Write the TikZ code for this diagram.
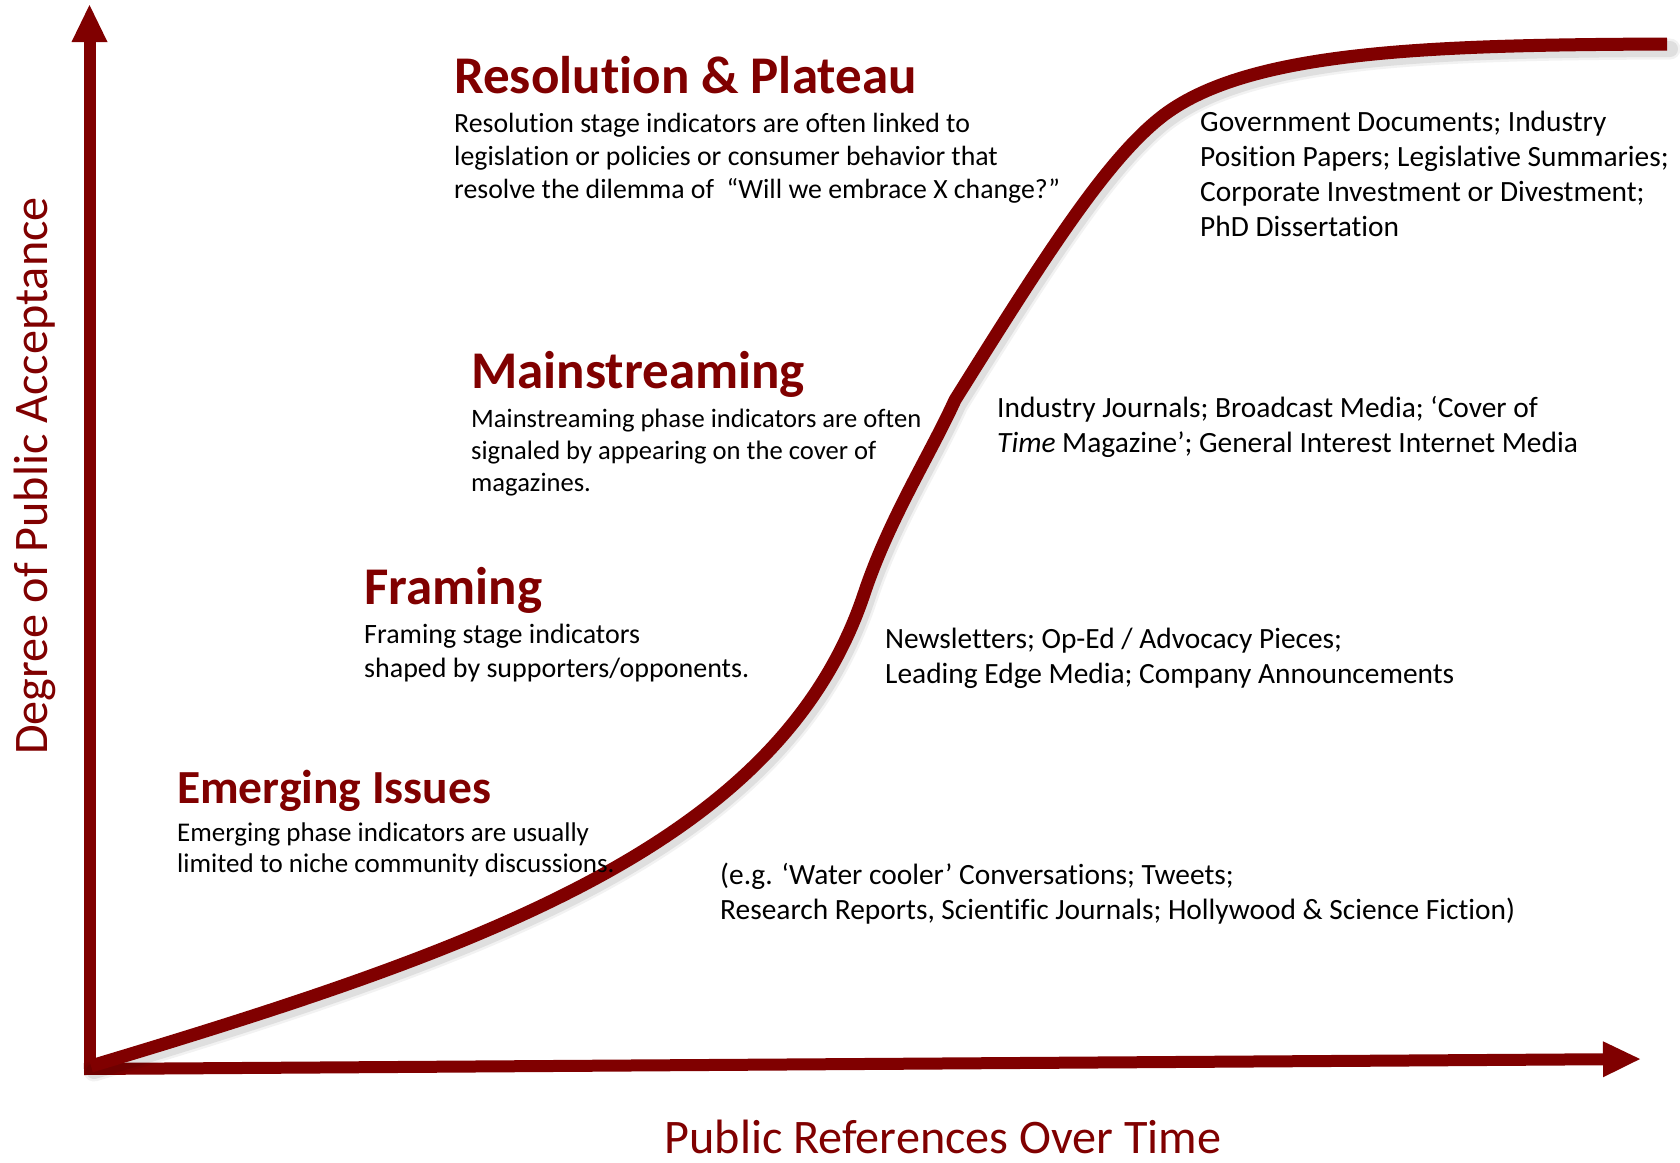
\documentclass[tikz,border=0pt]{standalone}
\usepackage{fontspec}
\setmainfont{Carlito}[Ligatures=NoCommon]
\usetikzlibrary{arrows.meta}
\definecolor{maroon}{RGB}{128,0,0}
\newcommand\linesbox[1]{\parbox[t]{900pt}{\raggedright #1}}
\tikzset{
  axisline/.style={maroon, line width=12pt, line cap=butt,
     -{Triangle[length=37pt,width=36pt,line width=0pt]}},
  curveline/.style={maroon, line width=13pt, line cap=butt, line join=round,
     preaction={draw, black, opacity=.05, line width=21pt, line cap=round,
        transform canvas={shift={(3,5)}}},
     preaction={draw, black, opacity=.08, line width=16pt, line cap=round,
        transform canvas={shift={(3,5)}}}},
  stagetitle/.style={anchor=base west, inner sep=0pt, text=maroon,
     font=\fontsize{53}{64}\selectfont\bfseries},
  stagetitlesm/.style={stagetitle, font=\fontsize{47.5}{58}\selectfont\bfseries},
  bodytext/.style={anchor=base west, inner sep=0pt, text=black},
  mediatext/.style={anchor=base west, inner sep=0pt, text=black,
     font=\fontsize{29.4}{35}\selectfont},
  axislabel/.style={anchor=base, inner sep=0pt, text=maroon,
     font=\fontsize{48.2}{58}\selectfont}
}
\begin{document}
\begin{tikzpicture}[x=1pt,y=-1pt]
\useasboundingbox (0,0) rectangle (1680,1162);
\fill[white] (0,0) rectangle (1680,1162);

% axes
\coordinate (origin) at (89.5,1075);
\coordinate (ytip) at (89.5,5);
\coordinate (xstart) at (84,1069);
\coordinate (xtip) at (1640,1059);
\draw[axisline] (origin) -- (ytip);
\draw[axisline] (xstart) -- (xtip);

% S-curve
\coordinate (c0) at (91,1066);
\coordinate (c1) at (864,594);
\coordinate (c2) at (955,400);
\coordinate (c3) at (1160,118);
\coordinate (c4) at (1667,44);
\draw[curveline] (c0) .. controls (491,946) and (781,842) .. (c1)
   .. controls (889,519) and (930,455) .. (c2)
   .. controls (1045,256) and (1105,162) .. (c3)
   .. controls (1245,50) and (1430,45) .. (c4);

% stage titles and descriptions
\node[stagetitle] (restitle) at (454,93) {Resolution \& Plateau};
\node[bodytext, font=\fontsize{27.8}{33}\selectfont] (resbody) at (454,132)
  {\linesbox{Resolution stage indicators are often linked to\\
   legislation or policies or consumer behavior that\\
   resolve the dilemma of\ \ “Will we embrace X change?”}};

\node[stagetitle] (maintitle) at (471,388) {Mainstreaming};
\node[bodytext, font=\fontsize{26.6}{32}\selectfont] (mainbody) at (471,427)
  {\linesbox{Mainstreaming phase indicators are often\\
   signaled by appearing on the cover of\\
   magazines.}};

\node[stagetitle] (frametitle) at (364,604) {Framing};
\node[bodytext, font=\fontsize{28}{34}\selectfont] (framebody) at (364,643)
  {\linesbox{Framing stage indicators\\
   shaped by supporters/opponents.}};

\node[stagetitlesm] (emergetitle) at (177,803) {Emerging Issues};
\node[bodytext, font=\fontsize{27}{31.5}\selectfont] (emergebody) at (177,841)
  {\linesbox{Emerging phase indicators are usually\\
   limited to niche community discussions.}};

% media examples
\node[mediatext] (govmedia) at (1200,131)
  {\linesbox{Government Documents; Industry\\
   Position Papers; Legislative Summaries;\\
   Corporate Investment or Divestment;\\
   PhD Dissertation}};
\node[mediatext] (indmedia) at (997,417)
  {\linesbox{Industry Journals; Broadcast Media; ‘Cover of\\
   \textit{Time} Magazine’; General Interest Internet Media}};
\node[mediatext] (newsmedia) at (885,648)
  {\linesbox{Newsletters; Op-Ed / Advocacy Pieces;\\
   Leading Edge Media; Company Announcements}};
\node[mediatext] (egmedia) at (720,884)
  {\linesbox{(e.g. ‘Water cooler’ Conversations; Tweets;\\
   Research Reports, Scientific Journals; Hollywood \& Science Fiction)}};

% axis labels
\node[axislabel] (xlabel) at (943,1153) {Public References Over Time};
\node[axislabel, rotate=90] (ylabel) at (47,476) {Degree of Public Acceptance};
\end{tikzpicture}
\end{document}
